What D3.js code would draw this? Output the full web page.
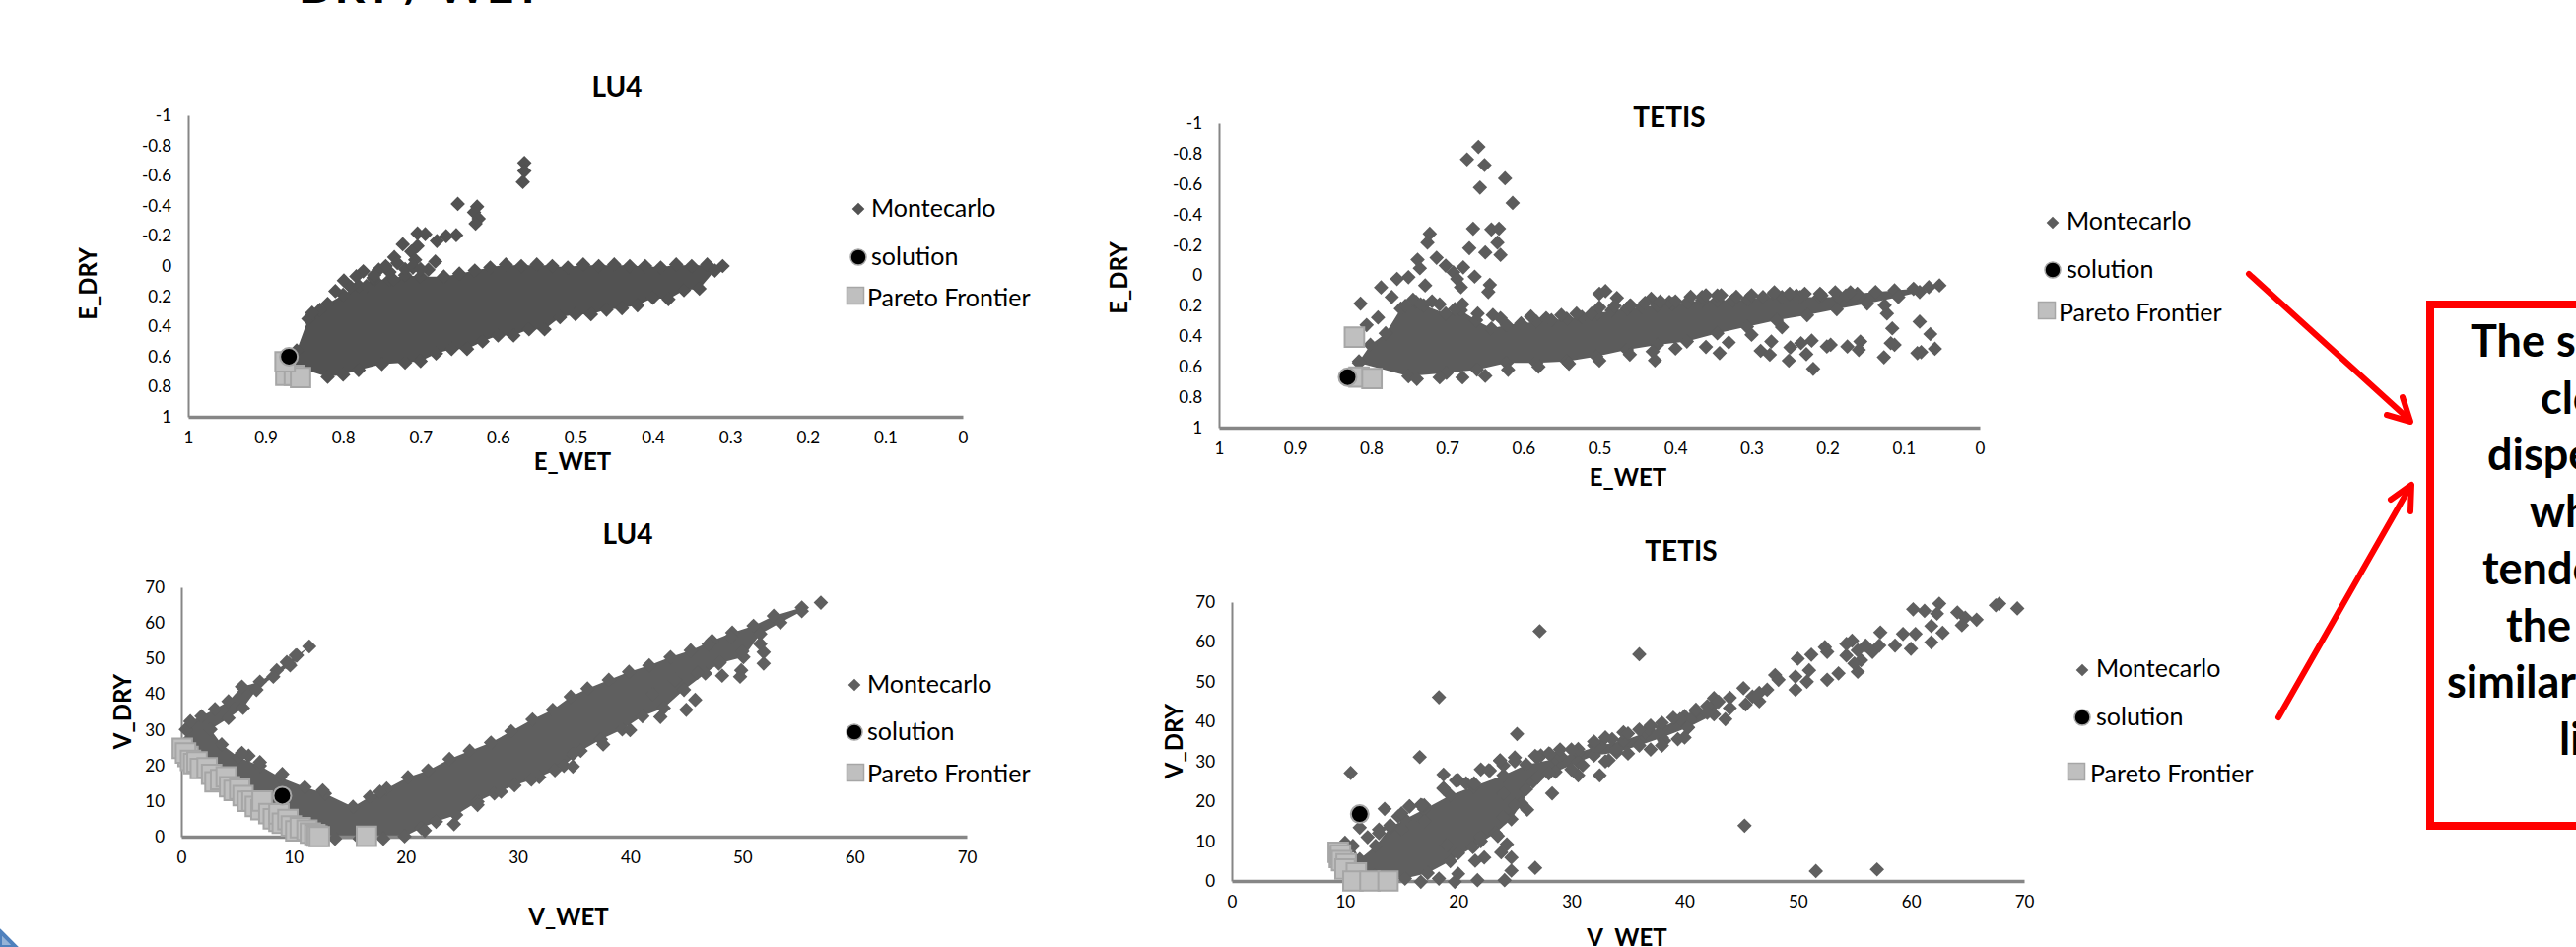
<!DOCTYPE html>
<html>
<head>
<meta charset="utf-8">
<title>DRY / WET</title>
<style>
html,body{margin:0;padding:0;background:#fff;overflow:hidden;}
svg{display:block;font-family:Lato,sans-serif;}
.axis path,.axis line{stroke:#868686;}
.axis text{font-family:Lato,sans-serif;font-size:17px;fill:#000;}
.title{font-size:28px;font-weight:bold;text-anchor:middle;}
.axisName{font-size:24px;font-weight:bold;text-anchor:middle;}
.legendText{font-size:25px;fill:#000;}
.note{font-size:45px;font-weight:bold;}
</style>
<script src="https://d3js.org/d3.v7.min.js"></script>
</head>
<body>
<svg id="graph" width="2614" height="961"></svg>
<script>
// tick labels
var eDryTicks = [-1,-0.8,-0.6,-0.4,-0.2,0,0.2,0.4,0.6,0.8,1];
var eWetTicks = [1,0.9,0.8,0.7,0.6,0.5,0.4,0.3,0.2,0.1,0];
var vTicks = [0,10,20,30,40,50,60,70];
var legendNames = ["Montecarlo","solution","Pareto Frontier"];

// LU4 E: outline of the solid cloud, scattered points, pareto, solution
var lu4EWet = [.86,.845,.82,.80,.78,.76,.74,.72,.70,.67,.65,.63,.61,.59,.57,.55,.53,.51,.49,.47,.45,.43,.41,.39,.37,.35,.33,.31,.32,.34,.36,.38,.40,.42,.44,.46,.48,.50,.52,.54,.56,.58,.60,.62,.64,.66,.68,.70,.72,.75,.78,.80,.82,.86];
var lu4EDry = [.56,.35,.25,.19,.13,.09,.09,.06,.07,.07,.05,.03,.01,-.01,0,-.01,0,.01,-.01,0,-.01,0,0,.01,-.01,0,-.01,0,.03,.15,.16,.22,.21,.26,.28,.29,.32,.32,.34,.42,.42,.46,.46,.50,.55,.55,.58,.63,.64,.65,.69,.72,.735,.67];
var lu4EScatterWet = [.566,.566,.568,.652,.627,.631,.625,.629,.704,.694,.679,.667,.654,.723,.704,.712,.734,.730,.707,.681,.690,.710,.774,.754,.799,.783,.761,.810,.770,.735,.76,.74,.72,.71,.70,.745,.79,.83,.84];
var lu4EScatterDry = [-.684,-.630,-.558,-.412,-.394,-.357,-.314,-.281,-.216,-.211,-.166,-.198,-.205,-.144,-.133,-.096,-.059,-.02,-.041,-.03,.024,.01,.035,.024,.096,.068,.078,.166,.133,.09,.06,.04,.02,0,.02,0,.14,.29,.31];
var lu4EParetoWet = [.874,.863,.855,.875];
var lu4EParetoDry = [.725,.725,.739,.634];
var lu4ESolution = [.870,.601];

// TETIS E
var tetisEWet = [.816,.801,.781,.761,.741,.731,.702,.682,.662,.642,.622,.603,.583,.563,.543,.523,.503,.484,.464,.444,.424,.404,.384,.365,.345,.325,.305,.285,.260,.236,.211,.186,.161,.137,.112,.087,.067,.053,.079,.107,.148,.188,.227,.267,.306,.345,.385,.424,.464,.504,.543,.583,.622,.661,.701,.751,.816];
var tetisEDry = [.564,.456,.38,.218,.174,.196,.25,.229,.294,.348,.326,.315,.304,.294,.283,.272,.25,.229,.218,.207,.196,.185,.174,.164,.164,.164,.157,.142,.142,.142,.142,.142,.12,.109,.098,.088,.077,.066,.109,.142,.185,.222,.261,.294,.337,.38,.434,.456,.489,.532,.564,.575,.575,.619,.64,.662,.575];
var tetisEScatterWet = [.659,.674,.651,.624,.657,.614,.666,.642,.632,.634,.650,.630,.671,.723,.726,.739,.736,.714,.702,.692,.679,.664,.687,.644,.646,.751,.766,.729,.682,.787,.773,.814,.791,.806,.500,.492,.477,.459,.432,.408,.365,.345,.271,.241,.208,.176,.427,.342,.288,.274,.276,.251,.249,.235,.221,.228,.219,.201,.196,.174,.157,.159,.126,.112,.117,.115,.122,.079,.065,.059,.082,.077,.125,
	.755,.745,.735,.72,.71,.69,.68,.66,.64,.63,.59,.57,.55,.53,.51,.50,.48,.46,.44,.42,.40,.38,.36,.34,.32,.30,.27,.25,.23,.21,.19,.17,
	.74,.71,.68,.65,.62,.58,.54,.50,.46,.43,.40,.36,.33,.30,.26];
var tetisEScatterDry = [-.844,-.762,-.725,-.638,-.577,-.476,-.307,-.302,-.307,-.216,-.151,-.135,-.179,-.274,-.216,-.103,-.047,-.116,-.064,-.021,-.053,.008,.023,.062,.109,.012,.023,.066,.077,.079,.142,.185,.276,.326,.12,.103,.148,.196,.153,.174,.142,.131,.12,.131,.131,.131,.558,.51,.495,.434,.521,.56,.473,.445,.428,.517,.614,.467,.456,.467,.434,.489,.538,.456,.445,.348,.25,.304,.385,.482,.51,.504,.196,
	.2,.16,.19,.17,.19,.22,.19,.25,.26,.28,.27,.28,.26,.25,.25,.21,.2,.2,.18,.17,.17,.14,.13,.13,.14,.13,.11,.12,.12,.12,.11,.11,
	.68,.67,.67,.66,.62,.6,.58,.56,.52,.5,.48,.47,.44,.39,.34];
var tetisEParetoWet = [.822,.816,.799];
var tetisEParetoDry = [.406,.668,.677];
var tetisESolution = [.831,.668];

// LU4 V
var lu4VWet = [.4,.8,1.8,3.0,4.2,5.4,7.0,8.5,9.4,10.3,11.4,9.7,8.2,6.7,5.5,4.2,2.6,3.6,5.1,7.0,8.8,11.0,12.8,15.3,16.8,18.3,20.2,22.0,23.9,25.7,27.6,29.4,31.3,33.1,34.7,36.2,38.1,39.9,41.7,43.6,45.4,47.3,49.1,51.0,52.8,55.3,55.3,53.4,51.6,50.1,47.9,46.7,44.8,43.0,41.1,39.3,37.4,35.6,34.1,31.9,29.7,27.9,26.4,24.5,22.7,21.4,19.9,18.0,15.9,13.7,11.6,9.7,7.9,6.0,4.2,2.3,.8,.4];
var lu4VDry = [30.1,32.4,33.8,35.8,38.0,42.1,43.5,46.7,49.0,50.9,53.4,48.1,44.9,41.2,36.1,33.3,30.1,25.9,22.3,19.9,16.7,13.9,12.1,8.4,11.2,13.5,16.7,18.6,21.8,24.1,26.4,29.6,32.9,35.6,39.3,41.6,44.0,46.3,48.1,50.4,52.3,55.0,57.3,59.2,62.0,64.3,63.3,60.1,56.9,50.4,48.6,45.8,41.2,36.1,33.8,30.1,27.3,24.1,19.9,16.7,14.4,12.1,9.8,6.1,4.2,2.4,.1,-.6,-.6,-.6,.6,3.8,7.5,10.7,14.4,18.6,22.7,26.4];
var lu4VScatterWet = [57.0,10.2,9.6,51.6,51.9,51.9,49.9,48.2,49.8,45.8,45.0,42.7,40.0,37.6,34.9,34.9,33.3,31.2,28.5,26.4,24.3,21.7,6.0,5.4,7.0,9.0,12.6,17.7,47,49,50,48,46,44,42];
var lu4VScatterDry = [65.7,50.9,48.6,54.1,51.8,48.6,46.7,45.2,44.9,38.4,35.6,33.6,29.9,25.9,23.2,19.7,18.6,16.0,12.6,8.9,3.5,1.7,22.7,23.5,20.9,17.6,13.0,12.6,54,56,52,49,46,44,40];
var lu4VParetoWet = [.09,.6,.38,.82,1.1,1.4,1.7,2.3,2.7,3.0,3.5,4.0,4.3,4.7,5.2,5.5,5.9,6.3,6.6,7.1,7.2,7.8,8.2,8.7,8.7,9,9.5,9.8,10.2,10.6,11.2,11.5,11.9,12.1,12.3,16.5];
var lu4VParetoDry = [24.8,22.5,23.5,21.4,20.5,21,19.1,19.3,17.5,15.4,16,16.8,14.0,13,13.3,11.5,9.9,10,8.5,7.6,10.0,6.5,5,4.3,6.4,3.8,4.8,3,1.6,2.5,1.8,1,.6,.2,0,.1];
var lu4VSolution = [9.0,11.5];

// TETIS V
var tetisVWet = [10.7,11.3,12.7,14.0,15.3,17.0,19.3,21.3,24.0,26.0,28.6,30.6,32.6,34.6,36.6,38.0,40.0,42.6,42.6,40.3,38.0,36.0,34.0,32.0,30.6,28.6,26.6,25.6,24.7,23.3,21.3,19.3,17.3,15.3,12.7,11.0];
var tetisVDry = [8.8,5.5,8.8,13.5,15.5,18,21.5,23.7,26.5,29.2,30.7,32.3,34.0,35.2,37.3,38.5,41.4,44.3,41.8,38.5,36.0,34.0,32.3,31.5,29.8,27.4,24.9,19.5,15.5,12,8.5,5,2,.6,1.4,2.6];
var tetisVScatterWet = [69.4,67.8,67.5,65.8,64.8,64.5,64.1,62.5,62.3,61.2,60.2,61.8,62.8,61.8,60.4,59.3,60.0,58.6,57.3,57.2,56.6,56.0,54.8,54.3,55.6,55.3,53.6,52.6,52.4,51.2,50.0,52.6,51.0,49.8,50.8,49.8,48.0,48.3,47.3,46.6,45.2,45.4,44.0,43.6,42.6,42.0,41.0,40.5,39.6,40.3,39.4,38.0,36.8,38.2,34.6,33.6,34.0,32.0,33.3,32.5,30.6,30.6,28.3,29.0,27.3,55.3,54.3,55.0,46.0,46.6,42.0,27.2,36.0,18.3,25.2,16.6,10.5,18.7,13.5,45.3,51.6,57.0,26.8,26.1,24.7,24.3,23.5,23.8,22.3,21.5,24.7,24.1,21.7,19.7,18.3,20.0,16.7,11.3,13.0,14.7,15.7,16.7,10.0,18.7,20.0,22.7,23.7,
	22,24,25,27,28,30,32,33,35,36,37,39,41,43,44,24,26,27,28,30,31,33,35,37,38,40,19,20,22,22,24,25,13,12,14,15,17,17,15,
	15.7,16.8,19.8,20.7,21.4,18.7,22.8,23.7,25,26.8,28.1,29];
var tetisVScatterDry = [68.4,69.6,69.2,65.6,66.1,64.2,67.4,69.6,67.1,67.8,68.2,64.0,62.3,59.9,62.0,62.0,58.3,59.1,62.4,59.1,57.5,59.1,60.3,56.6,55.4,52.5,52.1,57.5,58.7,56.8,55.8,50.5,52.9,51.3,50.0,48.0,51.7,50.5,48.0,45.1,48.4,44.3,43.4,40.6,45.9,43.9,42.6,40.6,40.6,38.5,35.6,39.7,38.1,35.2,37.3,35.6,33.1,34.0,30.3,26.5,33.1,26.5,22.0,31.5,31.5,57.9,59.5,54.6,46.3,47.2,42.2,62.7,56.9,46.1,36.9,31.1,27.1,26.7,18.1,13.9,2.5,2.9,3.3,17.9,5.9,9.2,11.3,7.2,5.9,5.1,2.6,.2,.2,-.2,.6,1.8,-.2,13.4,12.9,16.2,18.7,19.1,9.6,23.2,25.3,27.8,30.3,
	28,29,31,31,32,33,35,36,37,38,39,41,43,45,46,22,23,26,27,28,29,30,32,33,34,36,9,7,10,11,16,19,12,11,14,17,19,15,13,
	18.8,19,25.2,24.5,24.5,23.3,27.7,30.2,30,31.4,31.9,33];
var tetisVParetoWet = [9.4,9.5,9.6,9.7,10.1,10,11,10.7,12.2,13.8];
var tetisVParetoDry = [7.2,5.9,6.5,5.1,4.3,3,2,0,0,0];
var tetisVSolution = [11.3,16.8];

var svg = d3.select("#graph");

function zipXY(a,b){
	return a.map(function(d,i){return [d,b[i]];});
}

// one scatter panel. box = pixel frame, names/legend = where the texts go
function drawPanel(o){
	var x = d3.scaleLinear().domain(o.xDomain).range([o.left,o.right]);
	var y = d3.scaleLinear().domain(o.yDomain).range([o.top,o.bottom]);
	var baseY = o.xAxisAt;

	var g = svg.append("g");
	var color = o.color;

	// solid part of the cloud
	var outline = zipXY(o.cloudX,o.cloudY);
	g.append("path")
		.attr("d",d3.line().x(function(d){return x(d[0]);}).y(function(d){return y(d[1]);})(outline)+"Z")
		.attr("fill",color);

	// y axis
	g.append("g").attr("class","axis")
		.attr("transform","translate("+o.left+",0)")
		.call(d3.axisLeft(y).tickValues(o.yTicks).tickSize(0).tickPadding(17).tickFormat(function(d){return String(d);}))
		.select("path").attr("stroke-width",2);
	// x axis
	g.append("g").attr("class","axis")
		.attr("transform","translate(0,"+y(baseY)+")")
		.call(d3.axisBottom(x).tickValues(o.xTicks).tickSize(0).tickPadding(15).tickFormat(function(d){return String(d);}))
		.select("path").attr("stroke-width",3.5);

	// diamonds
	var diamond = d3.symbol().type(d3.symbolSquare).size(108);
	g.selectAll("path.mc")
		.data(outline.concat(zipXY(o.scatterX,o.scatterY)))
		.enter().append("path").attr("class","mc")
		.attr("d",diamond)
		.attr("fill",color)
		.attr("transform",function(d){return "translate("+x(d[0])+","+y(d[1])+") rotate(45)";});

	// pareto
	var square = d3.symbol().type(d3.symbolSquare).size(390);
	g.selectAll("path.pf")
		.data(zipXY(o.paretoX,o.paretoY))
		.enter().append("path").attr("class","pf")
		.attr("d",square)
		.attr("fill","#bfbfbf").attr("stroke","#a6a6a6").attr("stroke-width",2)
		.attr("transform",function(d){return "translate("+x(d[0])+","+y(d[1])+")";});

	// solution
	g.append("circle")
		.attr("cx",x(o.solution[0])).attr("cy",y(o.solution[1])).attr("r",9)
		.attr("fill","#000").attr("stroke","#a6a6a6").attr("stroke-width",2);

	// texts
	g.append("text").attr("class","title").attr("x",o.titleAt[0]).attr("y",o.titleAt[1]).text(o.title);
	g.append("text").attr("class","axisName").attr("x",o.xNameAt[0]).attr("y",o.xNameAt[1]).text(o.xName);
	g.append("text").attr("class","axisName")
		.attr("transform","translate("+o.yNameAt[0]+","+o.yNameAt[1]+") rotate(-90)")
		.text(o.yName);

	// legend
	var lg = o.legend;
	g.append("path").attr("d",d3.symbol().type(d3.symbolSquare).size(80))
		.attr("fill",color)
		.attr("transform","translate("+lg[0][0]+","+lg[0][1]+") rotate(45)");
	g.append("circle").attr("cx",lg[1][0]).attr("cy",lg[1][1]).attr("r",8)
		.attr("fill","#000").attr("stroke","#a6a6a6").attr("stroke-width",1.5);
	g.append("path").attr("d",d3.symbol().type(d3.symbolSquare).size(290))
		.attr("fill","#bfbfbf").attr("stroke","#a6a6a6").attr("stroke-width",1.5)
		.attr("transform","translate("+lg[2][0]+","+lg[2][1]+")");
	legendNames.forEach(function(name,i){
		g.append("text").attr("class","legendText").attr("x",lg[i][2]).attr("y",lg[i][3]).text(name);
	});
}

drawPanel({left:191,right:977,top:117,bottom:423,xDomain:[1,0],yDomain:[-1,1],xTicks:eWetTicks,yTicks:eDryTicks,xAxisAt:1,color:"#525252",
	cloudX:lu4EWet,cloudY:lu4EDry,scatterX:lu4EScatterWet,scatterY:lu4EScatterDry,paretoX:lu4EParetoWet,paretoY:lu4EParetoDry,solution:lu4ESolution,
	title:"LU4",titleAt:[626,98],xName:"E_WET",xNameAt:[581,477],yName:"E_DRY",yNameAt:[98,288],
	legend:[[871,212,884,220],[871,261,884,269],[868,300,880,311]]});

drawPanel({left:1237,right:2009,top:125,bottom:434,xDomain:[1,0],yDomain:[-1,1],xTicks:eWetTicks,yTicks:eDryTicks,xAxisAt:1,color:"#5c5c5c",
	cloudX:tetisEWet,cloudY:tetisEDry,scatterX:tetisEScatterWet,scatterY:tetisEScatterDry,paretoX:tetisEParetoWet,paretoY:tetisEParetoDry,solution:tetisESolution,
	title:"TETIS",titleAt:[1694,129],xName:"E_WET",xNameAt:[1652,493],yName:"E_DRY",yNameAt:[1144,282],
	legend:[[2083,226,2097,233],[2083,274,2097,282],[2077,315,2089,326]]});

drawPanel({left:184,right:981,top:596,bottom:849,xDomain:[0,70],yDomain:[70,0],xTicks:vTicks,yTicks:vTicks,xAxisAt:0,color:"#5f5f5f",
	cloudX:lu4VWet,cloudY:lu4VDry,scatterX:lu4VScatterWet,scatterY:lu4VScatterDry,paretoX:lu4VParetoWet,paretoY:lu4VParetoDry,solution:lu4VSolution,
	title:"LU4",titleAt:[637,552],xName:"V_WET",xNameAt:[577,939],yName:"V_DRY",yNameAt:[133,722],
	legend:[[867,695,880,703],[867,743,880,751],[868,784,880,794]]});

drawPanel({left:1250,right:2054,top:611,bottom:894,xDomain:[0,70],yDomain:[70,0],xTicks:vTicks,yTicks:vTicks,xAxisAt:0,color:"#5f5f5f",
	cloudX:tetisVWet,cloudY:tetisVDry,scatterX:tetisVScatterWet,scatterY:tetisVScatterDry,paretoX:tetisVParetoWet,paretoY:tetisVParetoDry,solution:tetisVSolution,
	title:"TETIS",titleAt:[1706,569],xName:"V_WET",xNameAt:[1651,960],yName:"V_DRY",yNameAt:[1200,752],
	legend:[[2113,680,2127,687],[2113,728,2127,736],[2107,783,2121,794]]});

// slide leftovers: cut off title on top, corner of the blue shape
svg.append("text").attr("x",303).attr("y",3).attr("font-size",48).attr("font-weight","bold").text("DRY / WET");
svg.append("path").attr("d","M0,945L16,961L0,961Z").attr("fill","#95b3d7").attr("stroke","#4f81bd").attr("stroke-width",4);

// red note box, runs off the right edge of the page
var noteLines = ["The sm","clo","disper","whi","tenden","the","similar","lin"];
var noteStarts = [2507,2578,2524,2567,2519,2543,2483,2597];
svg.append("rect").attr("x",2466).attr("y",309).attr("width",200).attr("height",529)
	.attr("fill","#fff").attr("stroke","#ff0000").attr("stroke-width",8);
svg.selectAll("text.note").data(noteLines).enter().append("text").attr("class","note")
	.attr("x",function(d,i){return noteStarts[i];})
	.attr("y",function(d,i){return 362+i*57.7;})
	.text(function(d){return d;});

// arrows
function arrow(pts){
	svg.append("path").attr("d",d3.line()(pts)).attr("fill","none").attr("stroke","#ff0000").attr("stroke-width",6).attr("stroke-linejoin","round").attr("stroke-linecap","round");
}
arrow([[2282,278],[2445,426]]);
arrow([[2422,421],[2446,428],[2438,403]]);
arrow([[2312,728],[2445,495]]);
arrow([[2426,507],[2447,492],[2446,519]]);
</script>
</body>
</html>
